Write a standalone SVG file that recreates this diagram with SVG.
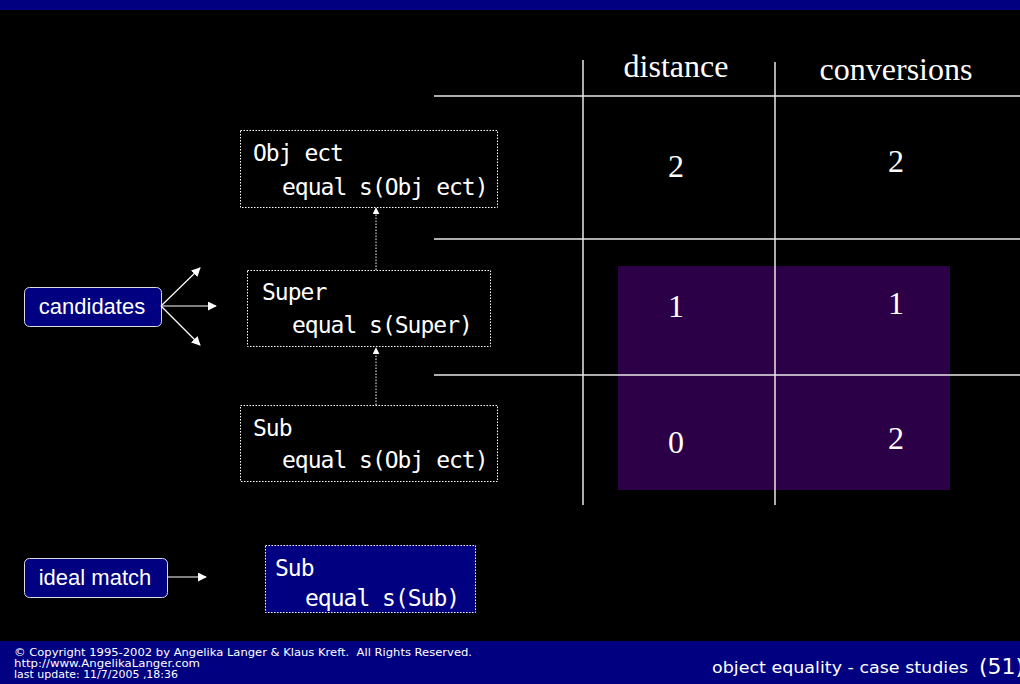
<svg xmlns="http://www.w3.org/2000/svg" width="1020" height="684" viewBox="0 0 1020 684">
<defs>
<style>
.mono{font-family:"DejaVu Sans Mono","Liberation Mono",monospace;font-size:23px;letter-spacing:-1px;fill:#fff}
.lbl{font-family:"Liberation Sans",Arial,sans-serif;font-size:22px;fill:#fff;text-anchor:middle}
.num{font-family:"Liberation Serif","Times New Roman",serif;font-size:32px;fill:#fff;text-anchor:middle}
.foot{font-family:"DejaVu Sans",Verdana,sans-serif;font-size:11px;fill:#fff}
.dbox{fill:none;stroke:#fff;stroke-width:1;stroke-dasharray:1.5 1.5}
.line{stroke:#e8e8e8;stroke-width:1.5}
.conn{stroke:#fff;stroke-width:1.2;fill:none}
</style>
<marker id="ah" viewBox="0 0 10 10" refX="9" refY="5" markerWidth="9" markerHeight="9" markerUnits="userSpaceOnUse" orient="auto">
<path d="M0,0 L10,5 L0,10 z" fill="#fff"/>
</marker>
<marker id="ahs" viewBox="0 0 10 10" refX="9" refY="5" markerWidth="7" markerHeight="7" markerUnits="userSpaceOnUse" orient="auto">
<path d="M0,0 L10,5 L0,10 z" fill="#fff"/>
</marker>
</defs>
<rect x="0" y="0" width="1020" height="684" fill="#000"/>
<rect x="0" y="0" width="1020" height="10" fill="#000080"/>
<rect x="0" y="641" width="1020" height="43" fill="#000080"/>

<g id="table">
<rect x="618" y="266" width="332" height="224" fill="#2c0046"/>
<line class="line" x1="583" y1="60" x2="583" y2="505"/>
<line class="line" x1="775" y1="62" x2="775" y2="505" stroke="#c8c8c8"/>
<line class="line" x1="434" y1="96" x2="1020" y2="96"/>
<line class="line" x1="434" y1="239" x2="1020" y2="239"/>
<line class="line" x1="434" y1="375" x2="1020" y2="375"/>
<text class="num" x="676" y="77">distance</text>
<text class="num" x="896" y="80">conversions</text>
<text class="num" x="676" y="177">2</text>
<text class="num" x="896" y="172">2</text>
<text class="num" x="676" y="317">1</text>
<text class="num" x="896" y="314">1</text>
<text class="num" x="676" y="453">0</text>
<text class="num" x="896" y="449">2</text>
</g>

<g id="node-object">
<rect class="dbox" x="240.5" y="130.5" width="257" height="77"/>
<text class="mono" x="253" y="161">Obj ect</text>
<text class="mono" x="282" y="195">equal s(Obj ect)</text>
</g>
<g id="node-super">
<rect class="dbox" x="247.5" y="270.5" width="243" height="76"/>
<text class="mono" x="262" y="300">Super</text>
<text class="mono" x="292" y="333">equal s(Super)</text>
</g>
<g id="node-sub">
<rect class="dbox" x="240.5" y="405.5" width="257" height="76"/>
<text class="mono" x="253" y="436">Sub</text>
<text class="mono" x="282" y="468">equal s(Obj ect)</text>
</g>
<g id="node-candidates">
<rect x="24.5" y="287.5" width="137" height="39" rx="5" fill="#000080" stroke="#ddd" stroke-width="1"/>
<text class="lbl" x="92" y="314">candidates</text>
</g>
<g id="node-ideal">
<rect x="24.5" y="558.5" width="143" height="39" rx="5" fill="#000080" stroke="#ddd" stroke-width="1"/>
<text class="lbl" x="95" y="585">ideal match</text>
</g>
<g id="node-subideal">
<rect x="265" y="545" width="211" height="68" fill="#000080"/>
<rect class="dbox" x="265.5" y="545.5" width="210" height="67"/>
<text class="mono" x="275" y="576">Sub</text>
<text class="mono" x="305" y="606">equal s(Sub)</text>
</g>

<g id="connectors">
<line class="conn" x1="161" y1="306" x2="200" y2="268" marker-end="url(#ah)"/>
<line class="conn" x1="161" y1="306" x2="216" y2="306" marker-end="url(#ah)"/>
<line class="conn" x1="161" y1="306" x2="200" y2="345" marker-end="url(#ah)"/>
<line class="conn" x1="167" y1="577" x2="206" y2="577" marker-end="url(#ah)"/>
<line x1="376" y1="270" x2="376" y2="208" stroke="#fff" stroke-width="1" stroke-dasharray="1.5 1.5" marker-end="url(#ahs)"/>
<line x1="376" y1="405" x2="376" y2="348" stroke="#fff" stroke-width="1" stroke-dasharray="1.5 1.5" marker-end="url(#ahs)"/>
</g>

<g id="footer">
<text class="foot" x="14" y="656" textLength="458" lengthAdjust="spacingAndGlyphs">© Copyright 1995-2002 by Angelika Langer &amp; Klaus Kreft.&#160; All Rights Reserved.</text>
<text class="foot" x="14" y="667" textLength="186" lengthAdjust="spacingAndGlyphs">http://www.AngelikaLanger.com</text>
<text class="foot" x="14" y="678" textLength="164" lengthAdjust="spacingAndGlyphs">last update: 11/7/2005 ,18:36</text>
<text x="712" y="673" font-family="'DejaVu Sans',Verdana,sans-serif" font-size="15" fill="#fff" textLength="256" lengthAdjust="spacingAndGlyphs">object equality - case studies</text>
<text x="979" y="674" font-family="'DejaVu Sans',Verdana,sans-serif" font-size="22" fill="#fff">(51)</text>
</g>
</svg>
